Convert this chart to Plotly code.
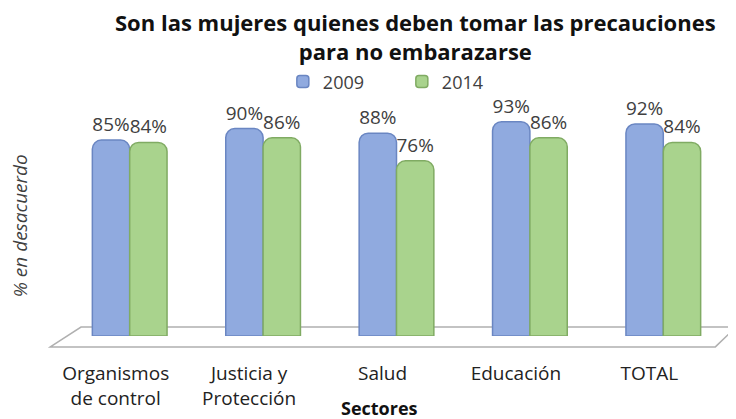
import plotly.graph_objects as go

categories = ["Organismos<br>de control", "Justicia y<br>Protección", "Salud", "Educación", "TOTAL"]
values_2009 = [85, 90, 88, 93, 92]
values_2014 = [84, 86, 76, 86, 84]
series_names = ["2009", "2014"]

FONT = "Open Sans"
TXT = "#404040"

fig = go.Figure()
fig.add_trace(go.Bar(
    x=categories, y=values_2009, name=series_names[0],
    marker=dict(color="#90AADF", line=dict(color="#6A86C2", width=1.5), cornerradius=9),
    text=[f"{v}%" for v in values_2009], textposition="outside",
    textfont=dict(size=19, color=TXT, family=FONT), cliponaxis=False,
))
fig.add_trace(go.Bar(
    x=categories, y=values_2014, name=series_names[1],
    marker=dict(color="#A9D38D", line=dict(color="#80AB63", width=1.5), cornerradius=9),
    text=[f"{v}%" for v in values_2014], textposition="outside",
    textfont=dict(size=19, color=TXT, family=FONT), cliponaxis=False,
))

fig.update_layout(
    width=728, height=411,
    margin=dict(l=55, r=6, t=86, b=83, autoexpand=False),
    paper_bgcolor="white", plot_bgcolor="white",
    barmode="group", bargap=0.44, bargroupgap=0,
    font=dict(family=FONT, color=TXT, size=17),
    legend=dict(
        orientation="h", x=0.508, xanchor="center", y=1.05, yanchor="middle",
        font=dict(size=18, color=TXT, family=FONT),
        entrywidth=74, entrywidthmode="pixels",
        traceorder="normal", bgcolor="rgba(0,0,0,0)",
    ),
    xaxis=dict(
        showgrid=False, showline=False, ticks="", automargin=False,
        ticklabelstandoff=24, ticklabelshift=-14,
        tickfont=dict(size=19, color="#222222", family=FONT),
    ),
    yaxis=dict(
        range=[0, 105], showgrid=False, showticklabels=False, zeroline=False, showline=False,
        automargin=False,
    ),
    annotations=[
        dict(
            text="<b>Son las mujeres quienes deben tomar las precauciones<br>para no embarazarse</b>",
            xref="paper", yref="paper", x=0.528, y=1.368, xanchor="center", yanchor="top",
            showarrow=False, font=dict(size=22, color="#111111", family=FONT),
        ),
        dict(
            text="<b>Sectores</b>",
            xref="paper", yref="paper", x=0.475, y=-0.296, xanchor="center", yanchor="middle",
            showarrow=False, font=dict(size=18, color="#111111", family=FONT),
        ),
        dict(
            text="<i>% en desacuerdo</i>",
            xref="paper", yref="paper", x=-0.064, y=0.455, xanchor="center", yanchor="middle",
            textangle=-90, showarrow=False, font=dict(size=19, color=TXT, family=FONT),
        ),
    ],
    shapes=[dict(
        type="path", xref="paper", yref="paper",
        path="M -0.019 -0.045 L 0.027 0.037 L 1.009 0.037 L 0.978 -0.045 Z",
        line=dict(color="#B0B0B0", width=1.5), fillcolor="rgba(0,0,0,0)", layer="below",
    )],
)

fig.write_html("out.html")
